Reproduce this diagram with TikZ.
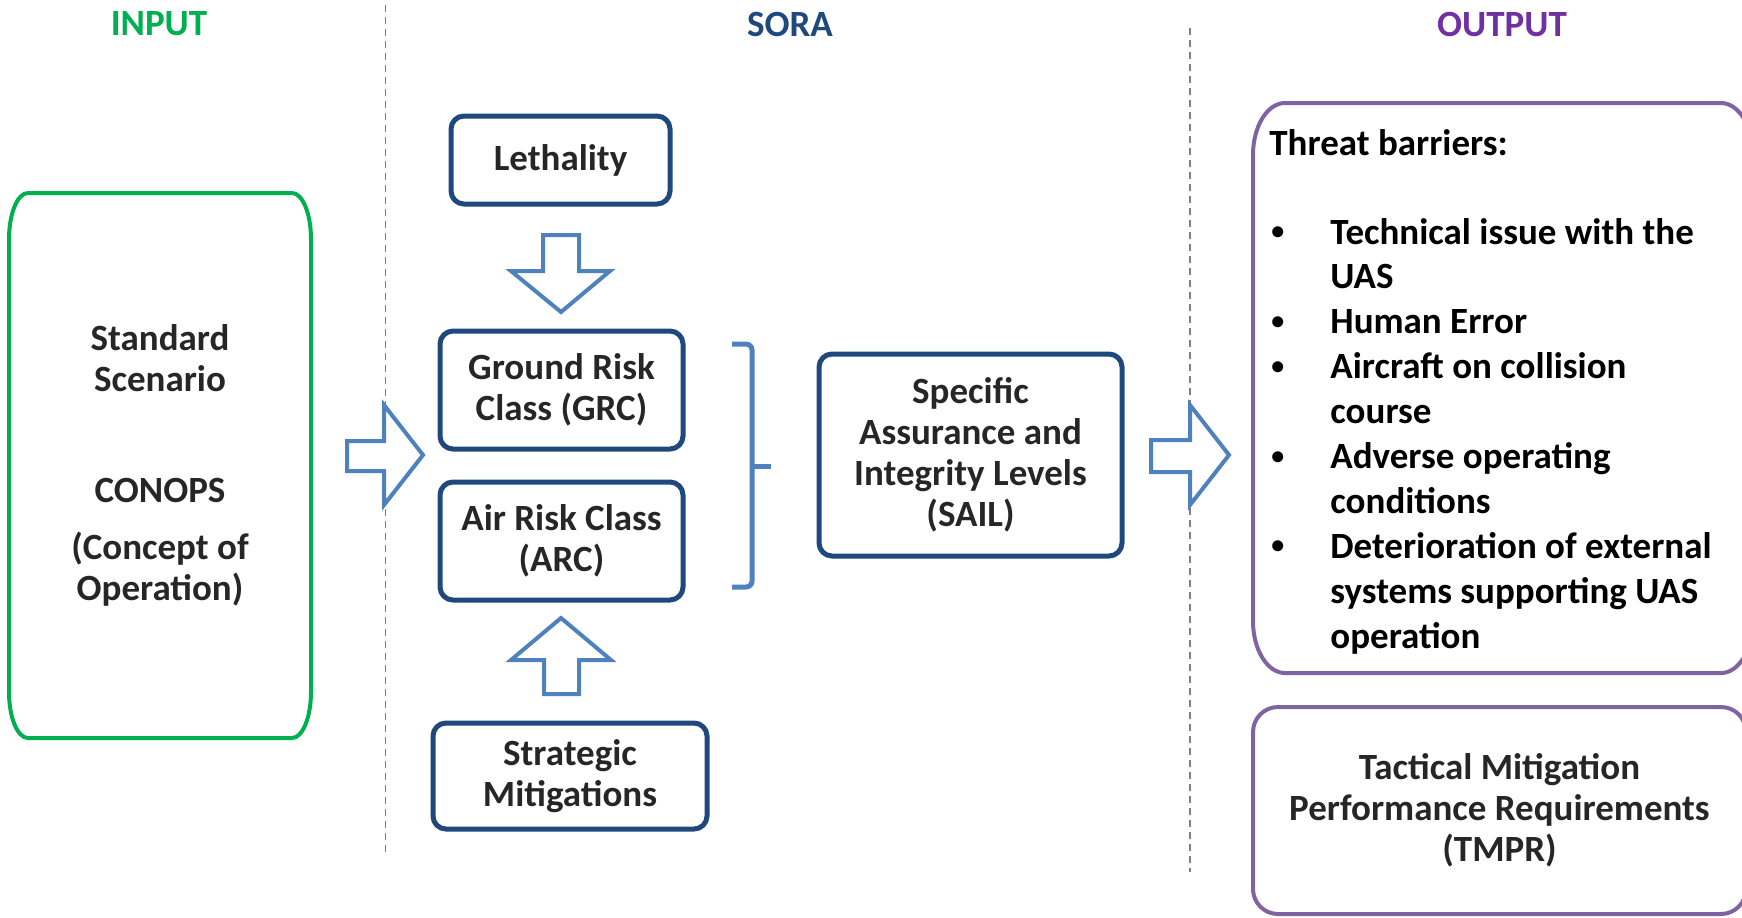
\documentclass[tikz,border=0pt]{standalone}
\usepackage{fontspec}
\setmainfont{Carlito}
\definecolor{ingreen}{RGB}{0,176,80}
\definecolor{sorablue}{RGB}{31,73,125}
\definecolor{arrblue}{RGB}{79,129,189}
\definecolor{outpurple}{RGB}{112,48,160}
\definecolor{boxpurple}{RGB}{128,100,162}
\definecolor{txtc}{RGB}{38,38,38}
\definecolor{dashgray}{RGB}{128,128,128}
\newcommand{\smallbul}{\raisebox{0.12em}{\scalebox{0.7}{\textbullet}}}
\begin{document}
\begin{tikzpicture}[x=0.5pt,y=-0.5pt,
  txt/.style={font=\bfseries\fontsize{18.5}{20.5}\selectfont, text=txtc, align=center},
  header/.style={font=\bfseries\fontsize{18.5}{20.5}\selectfont},
  sorabox/.style={txt, draw=sorablue, line width=2.5pt, rounded corners=6.5pt, inner sep=0pt},
  outline/.style={draw=boxpurple, line width=2pt},
  blockarrow/.style={draw=arrblue, fill=white, line width=2pt, line join=miter},
  bracepath/.style={draw=arrblue, line width=2.5pt, rounded corners=3pt},
  sepline/.style={draw=dashgray, line width=0.8pt, dash pattern=on 3.5pt off 2.5pt},
]
\useasboundingbox (0,0) rectangle (1742,917);
\clip (0,0) rectangle (1742,917);

% headers
\node[header, text=ingreen] (hin) at (159,24) {INPUT};
\node[header, text=sorablue] (hsora) at (790,24) {SORA};
\node[header, text=outpurple] (hout) at (1502,24) {OUTPUT};

% dashed separators
\coordinate (s1t) at (385.5,5);
\coordinate (s1b) at (385.5,853);
\coordinate (s2t) at (1190,28);
\coordinate (s2b) at (1190,872);
\draw[sepline] (s1t) -- (s1b);
\draw[sepline] (s2t) -- (s2b);

% input box (elliptical corners, rx=19, ry=46)
\draw[draw=ingreen, line width=2pt]
  (9,239) .. controls (9,213.6) and (17.5,193) .. (28,193)
  -- (292,193) .. controls (302.5,193) and (311,213.6) .. (311,239)
  -- (311,692) .. controls (311,717.4) and (302.5,738) .. (292,738)
  -- (28,738) .. controls (17.5,738) and (9,717.4) .. (9,692) -- cycle;
\node[txt, inner sep=0pt] (input) at (160,465.5)
  {Standard\\Scenario\\[35pt]CONOPS\\[8pt](Concept of\\Operation)};

% SORA column
\node[sorabox, minimum width=109.5pt, minimum height=44pt] (leth) at (560.5,160) {Lethality};
\node[sorabox, minimum width=121.5pt, minimum height=59pt] (grc) at (561.5,390) {Ground Risk\\Class (GRC)};
\node[sorabox, minimum width=121.5pt, minimum height=59pt] (arc) at (561.5,541) {Air Risk Class\\(ARC)};
\node[sorabox, minimum width=137pt, minimum height=53pt] (strat) at (570,776) {Strategic\\Mitigations};
\node[sorabox, minimum width=151.5pt, minimum height=101pt] (sail) at (970.5,455)
  {Specific\\Assurance and\\Integrity Levels\\(SAIL)};

% block arrows
\draw[blockarrow] (347,441) -- (384,441) -- (384,405) -- (423,455) -- (384,505) -- (384,471) -- (347,471) -- cycle;
\draw[blockarrow] (1151,440) -- (1190,440) -- (1190,405) -- (1229,455) -- (1190,505) -- (1190,472) -- (1151,472) -- cycle;
\draw[blockarrow] (543,235) -- (579,235) -- (579,271) -- (610,271) -- (561,312) -- (511,271) -- (543,271) -- cycle;
\draw[blockarrow] (561,618) -- (611,660) -- (579,660) -- (579,694) -- (544,694) -- (544,660) -- (511,660) -- cycle;

% brace
\draw[bracepath] (732,344) -- (752,344) -- (752,466) -- (752,587) -- (732,587);
\draw[bracepath] (752,466) -- (771,466);

% threat barriers box (elliptical corners, rx=32, ry=52)
\draw[outline]
  (1253,155) .. controls (1253,126.3) and (1267.3,103) .. (1285,103)
  -- (1721,103) .. controls (1738.7,103) and (1753,126.3) .. (1753,155)
  -- (1753,621) .. controls (1753,649.7) and (1738.7,673) .. (1721,673)
  -- (1285,673) .. controls (1267.3,673) and (1253,649.7) .. (1253,621) -- cycle;
\node[anchor=base west, inner sep=0pt, font=\bfseries\fontsize{18.5}{20.5}\selectfont, text=black] (tbhead) at (1269,155.5) {Threat barriers:};
\node[anchor=base west, inner sep=0pt, font=\bfseries\fontsize{18.5}{22.45}\selectfont, text=black] (tblist) at (1271,244)
  {\begin{tabular}[t]{@{}p{29.5pt}@{}l@{}}
   \smallbul & Technical issue with the\\
             & UAS\\
   \smallbul & Human Error\\
   \smallbul & Aircraft on collision\\
             & course\\
   \smallbul & Adverse operating\\
             & conditions\\
   \smallbul & Deterioration of external\\
             & systems supporting UAS\\
             & operation
   \end{tabular}};

% TMPR box
\node[txt, outline, rounded corners=12.5pt, inner sep=0pt, minimum width=246.5pt, minimum height=103.5pt] (tmpr) at (1499.5,810.5)
  {Tactical Mitigation\\Performance Requirements\\(TMPR)};
\end{tikzpicture}
\end{document}
